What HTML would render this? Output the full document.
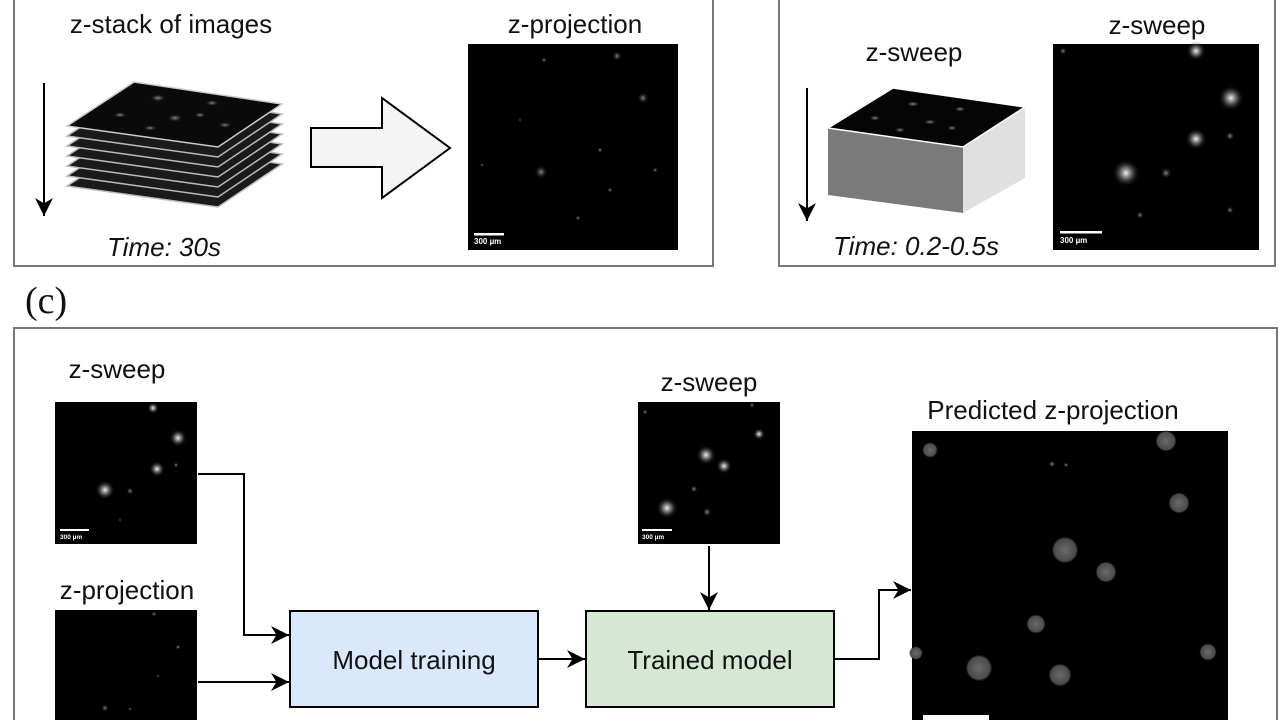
<!DOCTYPE html>
<html><head><meta charset="utf-8"><style>
html,body{margin:0;padding:0;background:#fff;}
svg{display:block;}
text{font-family:"Liberation Sans",sans-serif;fill:#111;}
</style></head><body>
<svg width="1280" height="720" viewBox="0 0 1280 720" xmlns="http://www.w3.org/2000/svg">
<defs>
<radialGradient id="b"><stop offset="0" stop-color="#fff" stop-opacity="0.95"/><stop offset="0.4" stop-color="#ccc" stop-opacity="0.5"/><stop offset="1" stop-color="#000" stop-opacity="0"/></radialGradient>
<radialGradient id="d"><stop offset="0" stop-color="#bbb" stop-opacity="0.7"/><stop offset="0.5" stop-color="#888" stop-opacity="0.3"/><stop offset="1" stop-color="#000" stop-opacity="0"/></radialGradient>
<radialGradient id="s"><stop offset="0" stop-color="#999" stop-opacity="0.9"/><stop offset="1" stop-color="#000" stop-opacity="0"/></radialGradient>
<radialGradient id="g"><stop offset="0" stop-color="#6a6a6a"/><stop offset="0.8" stop-color="#4a4a4a"/><stop offset="1" stop-color="#000" stop-opacity="0"/></radialGradient>
<marker id="ah2" viewBox="0 0 10 10" refX="10" refY="5" markerWidth="18" markerHeight="18" markerUnits="userSpaceOnUse" orient="auto"><path d="M0,0 L10,5 L0,10 L3,5 z" fill="#000"/></marker>
</defs>

<rect x="14" y="-5" width="699" height="271" fill="none" stroke="#777" stroke-width="2"/>
<rect x="779" y="-5" width="496" height="271" fill="none" stroke="#777" stroke-width="2"/>

<text x="171" y="33" font-size="26" text-anchor="middle">z-stack of images</text>
<text x="575" y="33" font-size="26" text-anchor="middle">z-projection</text>
<line x1="44" y1="83" x2="44" y2="216" stroke="#000" stroke-width="2" marker-end="url(#ah2)"/>
<g stroke-width="1.5">
<polygon points="134,142 282,164 218,207 67,186" fill="#1a1a1a" stroke="#bbb"/>
<polygon points="134,132 282,154 218,197 67,176" fill="#1a1a1a" stroke="#bbb"/>
<polygon points="134,122 282,144 218,187 67,166" fill="#1a1a1a" stroke="#bbb"/>
<polygon points="134,112 282,134 218,177 67,156" fill="#1a1a1a" stroke="#bbb"/>
<polygon points="134,102 282,124 218,167 67,146" fill="#1a1a1a" stroke="#bbb"/>
<polygon points="134,92 282,114 218,157 67,136" fill="#1a1a1a" stroke="#bbb"/>
<polygon points="134,82 282,104 218,147 67,126" fill="#0a0a0a" stroke="#ccc"/>
</g>
<g fill="url(#d)">
<ellipse cx="158" cy="98" rx="8" ry="4"/><ellipse cx="212" cy="103" rx="7" ry="3"/><ellipse cx="120" cy="115" rx="7" ry="3"/>
<ellipse cx="175" cy="118" rx="8" ry="4"/><ellipse cx="150" cy="128" rx="7" ry="3"/><ellipse cx="200" cy="115" rx="6" ry="3"/><ellipse cx="225" cy="125" rx="7" ry="3"/>
</g>
<text x="164" y="256" font-size="26" font-style="italic" text-anchor="middle">Time: 30s</text>
<polygon points="311,128 382,128 382,98 450,148 382,198 382,167 311,167" fill="#f4f4f4" stroke="#000" stroke-width="2"/>
<rect x="468" y="44" width="210" height="206" fill="#000"/>
<g fill="url(#s)"><circle cx="541" cy="172" r="7"/><circle cx="643" cy="98" r="6"/><circle cx="617" cy="56" r="5"/><circle cx="578" cy="218" r="3"/><circle cx="520" cy="120" r="2"/><circle cx="600" cy="150" r="3"/><circle cx="544" cy="60" r="3"/><circle cx="482" cy="165" r="2"/><circle cx="610" cy="190" r="3"/><circle cx="655" cy="170" r="3"/></g>
<rect x="474" y="233" width="30" height="2.5" fill="#fff"/>
<text x="474" y="244" font-size="8" font-weight="bold" style="fill:#fff">300 µm</text>

<text x="1157" y="34" font-size="26" text-anchor="middle">z-sweep</text>
<text x="914" y="61" font-size="26" text-anchor="middle">z-sweep</text>
<line x1="807" y1="88" x2="807" y2="221" stroke="#000" stroke-width="2" marker-end="url(#ah2)"/>
<polygon points="828,128 963,147 963,213 828,195" fill="#7a7a7a"/>
<polygon points="963,147 1025,107 1025,178 963,213" fill="#e0e0e0"/>
<polygon points="893,88 1025,107 963,147 828,128" fill="#050505" stroke="#fff" stroke-width="1.5"/>
<g fill="url(#d)"><ellipse cx="913" cy="104" rx="7" ry="3"/><ellipse cx="960" cy="109" rx="6" ry="3"/><ellipse cx="875" cy="118" rx="6" ry="3"/><ellipse cx="930" cy="122" rx="7" ry="3"/><ellipse cx="900" cy="130" rx="6" ry="3"/><ellipse cx="952" cy="128" rx="5" ry="3"/></g>
<text x="916" y="255" font-size="26" font-style="italic" text-anchor="middle">Time: 0.2-0.5s</text>
<rect x="1053" y="44" width="206" height="206" fill="#000"/>
<g fill="url(#b)"><circle cx="1126" cy="173" r="14"/><circle cx="1231" cy="98" r="13"/><circle cx="1196" cy="139" r="11"/><circle cx="1196" cy="51" r="10"/></g>
<g fill="url(#s)"><circle cx="1166" cy="173" r="6"/><circle cx="1230" cy="136" r="5"/><circle cx="1230" cy="210" r="4"/><circle cx="1140" cy="215" r="4"/><circle cx="1063" cy="51" r="4"/></g>
<rect x="1060" y="231" width="42" height="2.5" fill="#fff"/>
<text x="1060" y="243" font-size="8" font-weight="bold" style="fill:#fff">300 µm</text>

<text x="25" y="313" font-size="38" style="font-family:'Liberation Serif',serif">(c)</text>

<rect x="14" y="328" width="1263" height="400" fill="none" stroke="#777" stroke-width="2"/>
<text x="117" y="378" font-size="26" text-anchor="middle">z-sweep</text>
<rect x="55" y="402" width="142" height="142" fill="#000"/>
<g fill="url(#b)"><circle cx="105" cy="490" r="10"/><circle cx="178" cy="438" r="9"/><circle cx="157" cy="469" r="8"/><circle cx="153" cy="408" r="6"/></g>
<g fill="url(#s)"><circle cx="130" cy="491" r="4"/><circle cx="176" cy="465" r="3"/><circle cx="120" cy="520" r="2"/></g>
<rect x="60" y="529" width="29" height="2" fill="#fff"/>
<text x="60" y="539" font-size="6.5" font-weight="bold" style="fill:#fff">300 µm</text>

<text x="127" y="599" font-size="26" text-anchor="middle">z-projection</text>
<rect x="55" y="610" width="142" height="120" fill="#000"/>
<g fill="url(#s)"><circle cx="105" cy="708" r="4"/><circle cx="178" cy="647" r="3"/><circle cx="154" cy="614" r="3"/><circle cx="158" cy="676" r="2"/><circle cx="130" cy="709" r="2"/></g>

<text x="709" y="391" font-size="26" text-anchor="middle">z-sweep</text>
<rect x="638" y="402" width="142" height="142" fill="#000"/>
<g fill="url(#b)"><circle cx="667" cy="508" r="11"/><circle cx="706" cy="455" r="10"/><circle cx="724" cy="466" r="8"/><circle cx="759" cy="434" r="6"/></g>
<g fill="url(#s)"><circle cx="707" cy="512" r="5"/><circle cx="694" cy="489" r="4"/><circle cx="645" cy="412" r="3"/><circle cx="752" cy="405" r="3"/></g>
<rect x="642" y="529" width="30" height="2" fill="#fff"/>
<text x="642" y="539" font-size="6.5" font-weight="bold" style="fill:#fff">300 µm</text>

<text x="1053" y="419" font-size="26" text-anchor="middle">Predicted z-projection</text>
<rect x="912" y="431" width="316" height="300" fill="#000"/>
<g fill="url(#g)"><circle cx="1065" cy="550" r="14"/><circle cx="1106" cy="572" r="11"/><circle cx="1179" cy="503" r="11"/><circle cx="1166" cy="441" r="11"/><circle cx="1060" cy="675" r="12"/><circle cx="979" cy="668" r="14"/><circle cx="1036" cy="624" r="10"/><circle cx="930" cy="450" r="8"/><circle cx="1208" cy="652" r="9"/><circle cx="916" cy="653" r="7"/></g>
<g fill="url(#s)"><circle cx="1052" cy="464" r="4"/><circle cx="1066" cy="465" r="3"/></g>
<rect x="923" y="715" width="66" height="8" fill="#fff"/>

<rect x="290" y="611" width="248" height="96" fill="#dae8fc" stroke="#000" stroke-width="2"/>
<text x="414" y="669" font-size="26" text-anchor="middle">Model training</text>
<rect x="586" y="611" width="248" height="96" fill="#d5e8d4" stroke="#000" stroke-width="2"/>
<text x="710" y="669" font-size="26" text-anchor="middle">Trained model</text>

<g fill="none" stroke="#000" stroke-width="2">
<polyline points="198,474 244,474 244,635 289,635" marker-end="url(#ah2)"/>
<polyline points="198,682 289,682" marker-end="url(#ah2)"/>
<polyline points="539,659 585,659" marker-end="url(#ah2)"/>
<polyline points="709,546 709,610" marker-end="url(#ah2)"/>
<polyline points="835,659 879,659 879,590 911,590" marker-end="url(#ah2)"/>
</g>
</svg>
</body></html>
